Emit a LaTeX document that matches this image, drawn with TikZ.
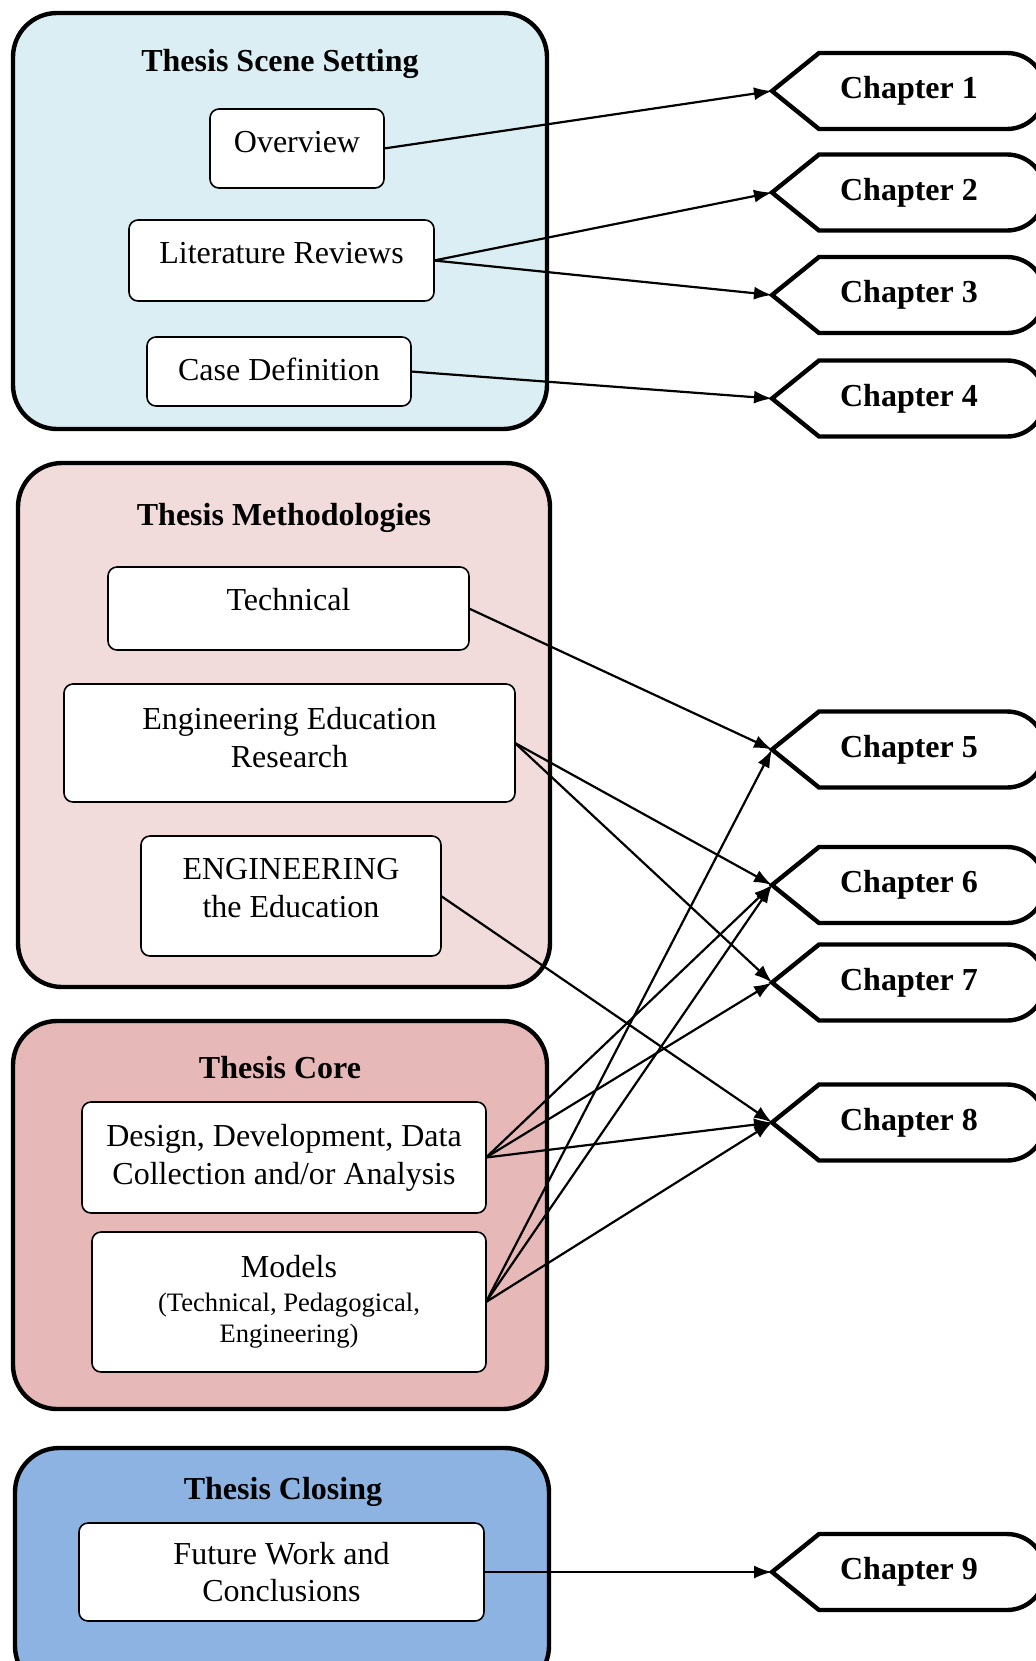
\documentclass[tikz,border=0pt]{standalone}
\usepackage{fontspec}
\setmainfont{Liberation Serif}
\usetikzlibrary{arrows.meta}
\definecolor{sceneblue}{RGB}{219,238,243}
\definecolor{methpink}{RGB}{242,220,219}
\definecolor{corerose}{RGB}{230,184,183}
\definecolor{closeblue}{RGB}{141,179,226}

\begin{document}
\begin{tikzpicture}[x=0.5pt,y=-0.5pt,
  group/.style={draw, line width=2.2pt, rounded corners=22pt, inner sep=0pt, outer sep=0pt},
  grouptitle/.style={font=\fontsize{16pt}{19pt}\selectfont\bfseries, anchor=base, inner sep=0pt},
  item/.style={draw, fill=white, line width=0.8pt, rounded corners=4.5pt, inner sep=0pt,
    outer sep=0pt, align=center, font=\fontsize{16pt}{19pt}\selectfont},
  txtup/.style={execute at end node={\rule[-#1]{0pt}{#1}}},
  txtdown/.style={execute at begin node={\rule{0pt}{#1}}},
  chapline/.style={draw, fill=white, line width=2.2pt, line join=miter},
  chaptext/.style={font=\fontsize{16pt}{19pt}\selectfont\bfseries, inner sep=0pt},
  link/.style={line width=1.1pt, -{Latex[length=9pt,width=6.5pt]}},
  pics/chapter/.style={code={
    \draw[chapline] (772,0) -- (819,-38) -- (1007,-38)
      .. controls (1028,-38) and (1045,-21) .. (1045,0)
      .. controls (1045,21) and (1028,38) .. (1007,38) -- (819,38) -- cycle;
    \coordinate (-tip) at (772,0);
    \node[chaptext] (-label) at (909,0) {#1};
  }}
]
\useasboundingbox (0,0) rectangle (1035,1661);

% ---- group frames ----
\node[group, fill=sceneblue, minimum width=267pt, minimum height=208pt] (scene) at (280,221) {};
\node[group, fill=methpink, minimum width=266pt, minimum height=262pt] (meth) at (284,725) {};
\node[group, fill=corerose, minimum width=267pt, minimum height=194pt] (core) at (280,1215) {};
\node[group, fill=closeblue, minimum width=267pt, minimum height=121pt] (closing) at (282,1569) {};

\node[grouptitle] (scenet) at (280,71) {Thesis Scene Setting};
\node[grouptitle] (metht) at (284,525) {Thesis Methodologies};
\node[grouptitle] (coret) at (280,1078) {Thesis Core};
\node[grouptitle] (closingt) at (283,1499.5) {Thesis Closing};

% ---- items ----
\node[item, txtup=7pt, minimum width=87pt, minimum height=39.5pt] (ov) at (297,148.5) {Overview};
\node[item, txtup=8pt, minimum width=152.5pt, minimum height=40.5pt] (lit) at (281.5,260.5) {Literature Reviews};
\node[item, txtup=2pt, minimum width=132pt, minimum height=34.5pt] (case) at (279,371.5) {Case Definition};

\node[item, txtup=9pt, minimum width=180.5pt, minimum height=41.5pt] (tech) at (288.5,608.5) {Technical};
\node[item, txtup=6pt, minimum width=225.5pt, minimum height=59pt] (eer) at (289.5,743) {Engineering Education\\Research};
\node[item, txtup=8pt, minimum width=150pt, minimum height=60pt] (eng) at (291,896) {ENGINEERING\\the Education};

\node[item, minimum width=202pt, minimum height=55.5pt] (ddd) at (284,1157.5) {Design, Development, Data\\Collection and/or Analysis};
\node[item, minimum width=197pt, minimum height=70pt] (mod) at (289,1302)
  {Models\\[-2pt]{\fontsize{13.3pt}{15.5pt}\selectfont (Technical, Pedagogical,}\\[-3.5pt]{\fontsize{13.3pt}{15.5pt}\selectfont Engineering)}};

\node[item, txtdown=13pt, minimum width=202.5pt, minimum height=49pt] (fut) at (281.5,1572) {Future Work and\\[-0.5pt]Conclusions};

% ---- chapters ----
\pic (c1) at (0,91) {chapter={Chapter 1}};
\pic (c2) at (0,192.5) {chapter={Chapter 2}};
\pic (c3) at (0,295) {chapter={Chapter 3}};
\pic (c4) at (0,398.5) {chapter={Chapter 4}};
\pic (c5) at (0,749.5) {chapter={Chapter 5}};
\pic (c6) at (0,885) {chapter={Chapter 6}};
\pic (c7) at (0,982.5) {chapter={Chapter 7}};
\pic (c8) at (0,1122.5) {chapter={Chapter 8}};
\pic (c9) at (0,1572) {chapter={Chapter 9}};

% ---- links ----
\draw[link] (ov.east) -- (c1-tip);
\draw[link] (lit.east) -- (c2-tip);
\draw[link] (lit.east) -- (c3-tip);
\draw[link] (case.east) -- (c4-tip);
\draw[link] (tech.east) -- (c5-tip);
\draw[link] (eer.east) -- (c6-tip);
\draw[link] (eer.east) -- (c7-tip);
\draw[link] (eng.east) -- (c8-tip);
\draw[link] (ddd.east) -- (c6-tip);
\draw[link] (ddd.east) -- (c7-tip);
\draw[link] (ddd.east) -- (c8-tip);
\draw[link] (mod.east) -- (c5-tip);
\draw[link] (mod.east) -- (c6-tip);
\draw[link] (mod.east) -- (c8-tip);
\draw[link] (fut.east) -- (c9-tip);
\end{tikzpicture}
\end{document}
